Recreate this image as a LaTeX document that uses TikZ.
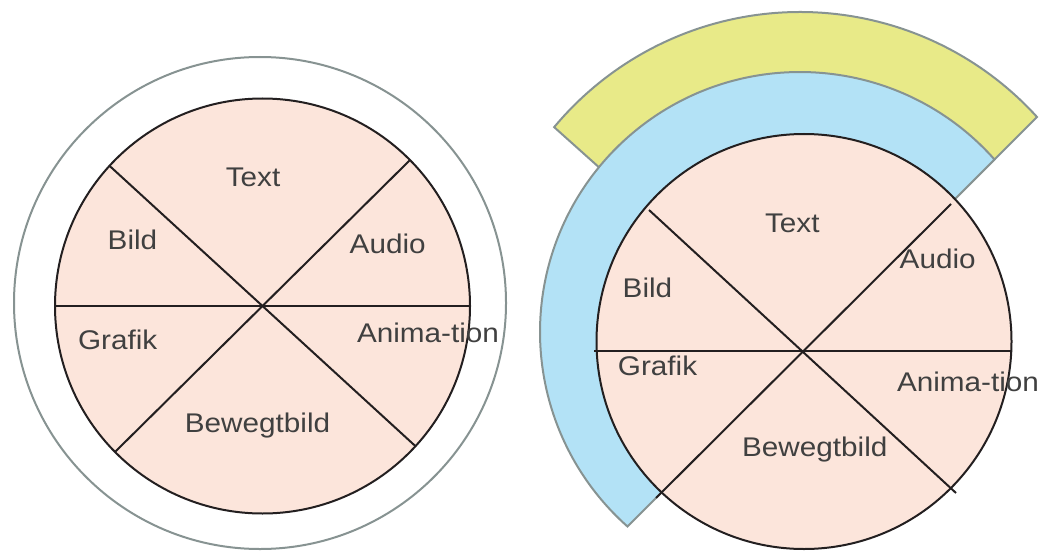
\documentclass[tikz,border=0pt]{standalone}
\usepackage{fontspec}
\setmainfont[FakeStretch=1.1]{Liberation Sans}
\definecolor{pinkfill}{HTML}{FCE5DB}
\definecolor{bluefill}{HTML}{B3E2F6}
\definecolor{yellowfill}{HTML}{E8EA88}
\definecolor{bandgray}{HTML}{879392}
\definecolor{circblack}{HTML}{231F20}
\definecolor{labelgray}{HTML}{404040}
\begin{document}
\begin{tikzpicture}[x=1pt,y=1pt,
  disc/.style={fill=pinkfill, draw=circblack, line width=2pt},
  divider/.style={draw=circblack, line width=2pt},
  band/.style={draw=bandgray, line width=2pt, line join=miter},
  ring/.style={draw=bandgray, line width=2pt},
  lbl/.style={text=labelgray, font=\fontsize{27}{30}\selectfont, anchor=base, inner sep=0pt}]
\useasboundingbox (0,0) rectangle (1043,550);

% ---------------- left diagram ----------------
\coordinate (Lo) at (260,247);
\coordinate (Lc) at (262.5,244);
\draw[ring] (Lo) circle[radius=246pt];
\draw[disc] (Lc) circle[radius=207.5pt];
\coordinate (L0) at ([shift={(0:208)}]Lc);
\coordinate (L180) at ([shift={(180:208.5)}]Lc);
\coordinate (L45) at ([shift={(44.7:207.5)}]Lc);
\coordinate (L225) at ([shift={(224.7:207.5)}]Lc);
\coordinate (L137) at ([shift={(137.5:207.5)}]Lc);
\coordinate (L317) at ([shift={(317.5:207.5)}]Lc);
\draw[divider] (L180) -- (L0);
\draw[divider] (L137) -- (L317);
\draw[divider] (L45) -- (L225);

\node[lbl] (lText) at (253,363.3) {Text};
\node[lbl] (lBild) at (132.5,300.7) {Bild};
\node[lbl] (lAudio) at (387.7,296.7) {Audio};
\node[lbl] (lGrafik) at (117.7,201) {Grafik};
\node[lbl] (lAnim) at (428,207.3) {Anima-tion};
\node[lbl] (lBew) at (257.5,117.3) {Bewegtbild};

% ---------------- right diagram ----------------
\coordinate (O) at (800,218);
\coordinate (C) at (803,199);
\coordinate (Rc) at (804,208.5);
\coordinate (yR) at (1037,433);
\coordinate (yL) at (640,346);
\coordinate (bU) at (994.5,390.5);

% yellow band
\draw[band, fill=yellowfill] (C) -- (yR) arc[start angle=42.21, end angle=140.2, radius=320pt] -- (yL) -- cycle;
% blue band
\draw[band, fill=bluefill] (C) -- (bU) arc[start angle=41.57, end angle=228.43, radius=260pt] -- cycle;
% disc
\draw[disc] (Rc) circle[radius=207.5pt];
\coordinate (RH1) at (594,199);
\coordinate (RH2) at (1012,199);
\coordinate (RA1) at (649,340);
\coordinate (RA2) at (956,57);
\coordinate (RB1) at (951,346);
\coordinate (RB2) at (656,52);
\draw[divider] (RH1) -- (RH2);
\draw[divider] (RA1) -- (RA2);
\draw[divider] (RB1) -- (RB2);

\node[lbl] (rText) at (792.3,317.3) {Text};
\node[lbl] (rAudio) at (937.7,281.7) {Audio};
\node[lbl] (rBild) at (647.5,252.7) {Bild};
\node[lbl] (rGrafik) at (657.5,174.3) {Grafik};
\node[lbl] (rAnim) at (968,158.3) {Anima-tion};
\node[lbl] (rBew) at (814.8,93.3) {Bewegtbild};
\end{tikzpicture}
\end{document}
